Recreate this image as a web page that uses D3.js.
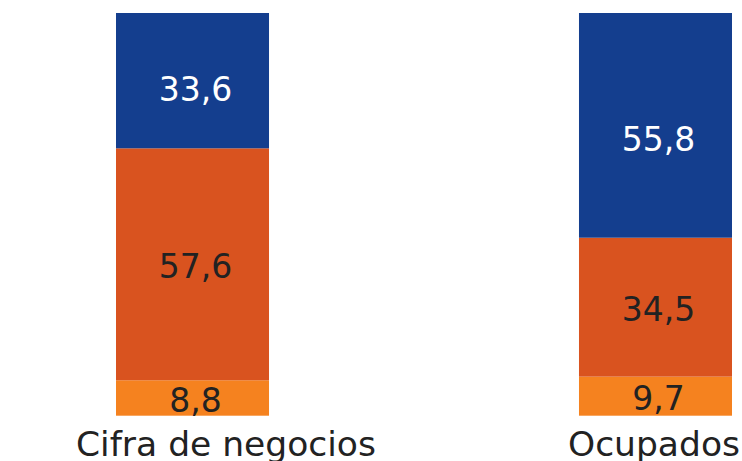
<!DOCTYPE html>
<html lang="es">
<head>
	<meta charset="UTF-8"/>
	<title>Cifra de negocios y ocupados</title>
	<script src="https://d3js.org/d3.v7.min.js"></script>
	<style>
		body { margin: 0; background: #fff; }
		text { font-family: "DejaVu Sans", sans-serif; }
	</style>
</head>
<body>
	<script>
		var w = 742;
		var h = 461;

		// categorias y series (de abajo a arriba)
		var categories = ["Cifra de negocios", "Ocupados"];
		var seriesNames = ["s1", "s2", "s3"];
		var s1 = [8.8, 9.7];
		var s2 = [57.6, 34.5];
		var s3 = [33.6, 55.8];
		var colors = ["#F5821F", "#D9531F", "#143E8E"];
		var textColors = ["#222", "#222", "#fff"];

		var table = categories.map(function(c, i){
			return { cat: c, s1: s1[i], s2: s2[i], s3: s3[i] };
		});
		var stacked = d3.stack().keys(seriesNames)(table);

		var xScale = d3.scaleBand()
						.domain(categories)
						.range([116, 732])
						.paddingInner(0.6695)
						.paddingOuter(0);

		// las etiquetas de categoria no quedan centradas en la barra
		var labelScale = d3.scalePoint()
						.domain(categories)
						.range([226, 654]);

		var yScale = d3.scaleLinear()
						.domain([0, 100])
						.range([415.7, 13]);

		var svg = d3.select("body")
					.append("svg")
					.attr("width", w)
					.attr("height", h);

		var groups = svg.selectAll("g.serie")
			.data(stacked)
			.enter()
			.append("g")
			.attr("class", "serie")
			.attr("fill", function(d, i){ return colors[i]; });

		groups.selectAll("rect")
			.data(function(d){ return d; })
			.enter()
			.append("rect")
			.attr("x", function(d){ return xScale(d.data.cat); })
			.attr("y", function(d){ return yScale(d[1]); })
			.attr("width", xScale.bandwidth())
			.attr("height", function(d){ return yScale(d[0]) - yScale(d[1]); });

		//valores
		stacked.forEach(function(serie, si){
			svg.selectAll("text.v" + si)
				.data(serie)
				.enter()
				.append("text")
				.attr("class", "v" + si)
				.text(function(d){
					return d3.format(".1f")(d[1] - d[0]).replace(".", ",");
				})
				.attr("x", function(d){ return xScale(d.data.cat) + xScale.bandwidth() / 2 + 3; })
				.attr("y", function(d){
					var top = yScale(d[1]), bot = yScale(d[0]);
					var extra = si === 2 ? (bot - top) * 0.06 : 2;
					return (top + bot) / 2 + extra;
				})
				.attr("dy", "0.36em")
				.attr("text-anchor", "middle")
				.attr("font-size", "33px")
				.attr("fill", textColors[si]);
		});

		//categorias
		svg.selectAll("text.cat")
			.data(categories)
			.enter()
			.append("text")
			.attr("class", "cat")
			.text(function(d){ return d; })
			.attr("x", function(d){ return labelScale(d); })
			.attr("y", 456)
			.attr("text-anchor", "middle")
			.attr("font-size", "34.5px")
			.attr("fill", "#222");
	</script>
</body>
</html>
